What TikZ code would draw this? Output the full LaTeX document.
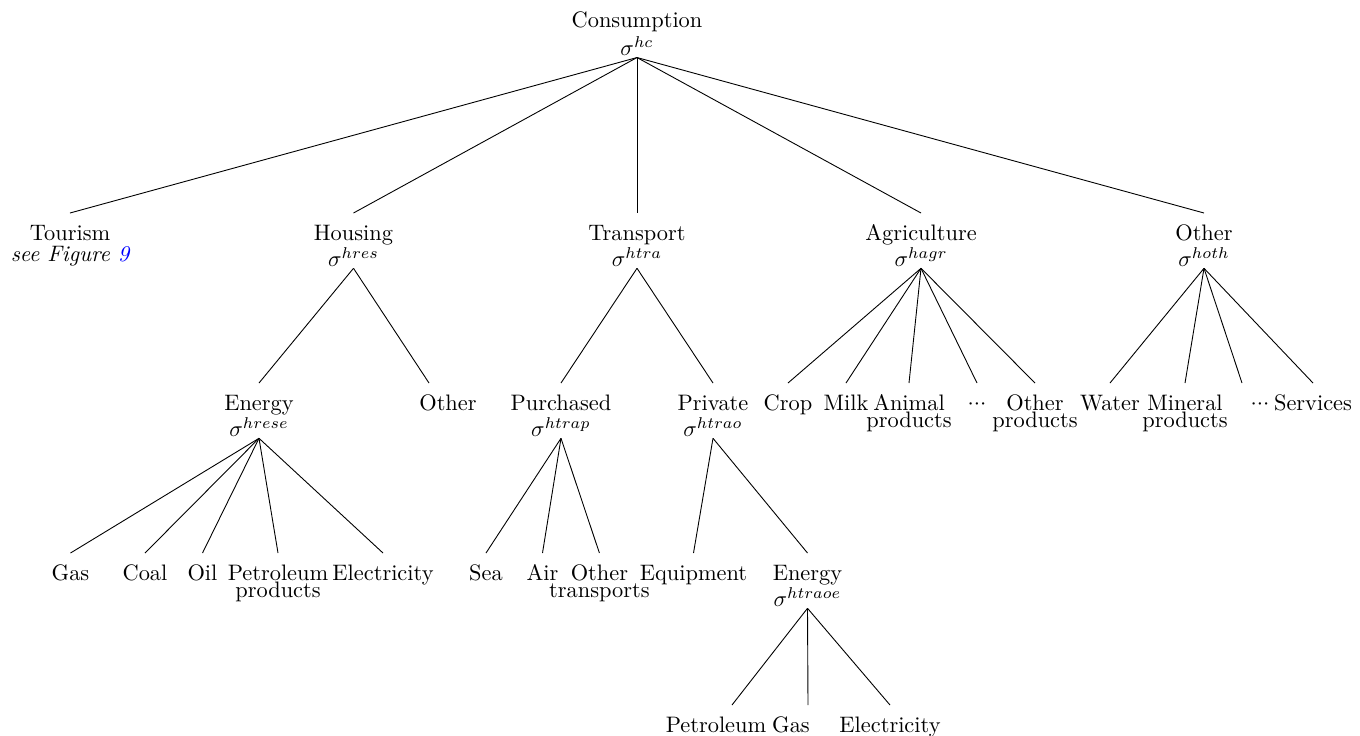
\documentclass[tikz,border=0pt]{standalone}
\usetikzlibrary{calc}

% vertical position of each level (one unit = one pixel of the layout)
\def\LA{213}
\def\LB{383}
\def\LC{553}
\def\LD{705}
% first line strut and the dots of an open list
\newcommand{\lstrut}{\rule{0pt}{11.3pt}}
\newcommand{\midots}{\raisebox{0.5pt}{${\cdotp}{\cdotp}{\cdotp}$}}

\begin{document}
\begin{tikzpicture}[x=0.4468pt,y=-0.4468pt]
    \tikzset{
      sect/.style={align=center,anchor=north,inner ysep=0.7pt},
      leaf/.style={sect}
    }
    \useasboundingbox (0,0) rectangle (1360,735);

    % top level
    \node[sect] (hc) at (637,0) {\lstrut Consumption\\[0.6pt]$\sigma^{hc}$};

    \node[sect] (tour) at (70,\LA) {\lstrut Tourism\\[-2.6pt]\textit{see Figure \textcolor{blue}{9}}};
    \node[sect] (hres) at (353.5,\LA) {\lstrut Housing\\[-0.4pt]$\sigma^{hres}$};
    \node[sect] (htra) at (637,\LA) {\lstrut Transport\\[-0.4pt]$\sigma^{htra}$};
    \node[sect] (hagr) at (921,\LA) {\lstrut Agriculture\\[-0.4pt]$\sigma^{hagr}$};
    \node[sect] (hoth) at (1204,\LA) {\lstrut Other\\[-0.4pt]$\sigma^{hoth}$};

    % housing
    \node[sect] (hrese) at (259,\LB) {\lstrut Energy\\[-0.4pt]$\sigma^{hrese}$};
    \node[leaf] (hreso) at (448,\LB) {\lstrut Other};
    \node[leaf] (gas) at (70.5,\LC) {\lstrut Gas};
    \node[leaf] (coal) at (145,\LC) {\lstrut Coal};
    \node[leaf] (oil) at (202.5,\LC) {\lstrut Oil};
    \node[leaf] (petr) at (278,\LC) {\lstrut Petroleum\\[-4.4pt]products};
    \node[leaf] (elec) at (383,\LC) {\lstrut Electricity};

    % transport
    \node[sect] (htrap) at (561,\LB) {\lstrut Purchased\\[-0.4pt]$\sigma^{htrap}$};
    \node[sect] (htrao) at (713,\LB) {\lstrut Private\\[-0.4pt]$\sigma^{htrao}$};
    \node[leaf] (sea) at (486,\LC) {\lstrut Sea};
    \node[leaf] (air) at (542.5,\LC) {\lstrut Air};
    \node[leaf] (otrans) at (599.4,\LC) {\lstrut Other\\[-4.4pt]transports};
    \node[leaf] (equip) at (693.5,\LC) {\lstrut Equipment};
    \node[sect] (htraoe) at (807.5,\LC) {\lstrut Energy\\[-0.4pt]$\sigma^{htraoe}$};
    \node[leaf] (tpetr) at (716,\LD) {\lstrut Petroleum};
    \node[leaf] (tgas) at (791,\LD) {\lstrut Gas};
    \node[leaf] (telec) at (890,\LD) {\lstrut Electricity};

    % agriculture
    \node[leaf] (crop) at (788,\LB) {\lstrut Crop};
    \node[leaf] (milk) at (846,\LB) {\lstrut Milk};
    \node[leaf] (anim) at (909,\LB) {\lstrut Animal\\[-4.4pt]products};
    \node[leaf] (adots) at (977,\LB) {\lstrut\midots};
    \node[leaf] (aoth) at (1035,\LB) {\lstrut Other\\[-4.4pt]products};

    % other
    \node[leaf] (water) at (1110,\LB) {\lstrut Water};
    \node[leaf] (miner) at (1185,\LB) {\lstrut Mineral\\[-4.4pt]products};
    \node[leaf] (odots) at (1260,\LB) {\lstrut\midots};
    \node[leaf] (serv) at (1313,\LB) {\lstrut Services};

    \path (hc.south) edge (tour.north) edge (hres.north) edge (htra.north)
      edge (hagr.north) edge (hoth.north);
    \path (hres.south) edge (hrese.north) edge ($(hreso.north)+(-19,0)$);
    \path (hrese.south) edge (gas.north) edge (coal.north) edge (oil.north)
      edge (petr.north) edge (elec.north);
    \path (htra.south) edge (htrap.north) edge (htrao.north);
    \path (htrap.south) edge (sea.north) edge (air.north) edge (otrans.north);
    \path (htrao.south) edge (equip.north) edge (htraoe.north);
    \path (htraoe.south) edge ($(tpetr.north)+(16,0)$)
      edge ($(tgas.north)+(17,0)$) edge (telec.north);
    \path (hagr.south) edge (crop.north) edge (milk.north) edge (anim.north)
      edge (adots.north) edge (aoth.north);
    \path (hoth.south) edge (water.north) edge (miner.north)
      edge ($(odots.north)+(-18,0)$) edge (serv.north);
  \end{tikzpicture}
\end{document}
